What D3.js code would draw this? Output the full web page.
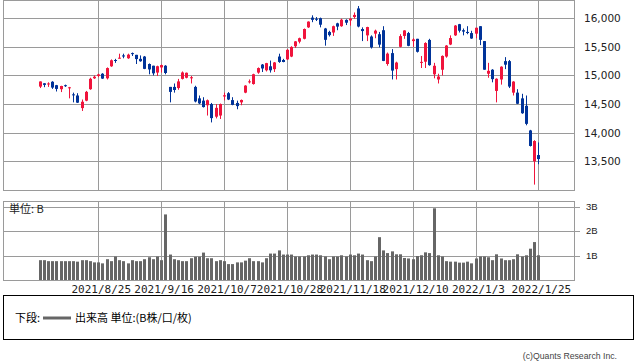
<!DOCTYPE html>
<html>
<head>
<meta charset="utf-8">
<script src="https://cdn.jsdelivr.net/npm/d3@7"></script>
<style>
  body { margin: 0; background: #fff; }
</style>
</head>
<body>
<div id="chart"></div>
<script>
// daily candles, Aug 2021 - Jan 2022
const dates = [
  "2021/8/5","2021/8/6","2021/8/9","2021/8/10","2021/8/11","2021/8/12","2021/8/13","2021/8/16","2021/8/17","2021/8/18",
  "2021/8/19","2021/8/20","2021/8/23","2021/8/24","2021/8/25","2021/8/26","2021/8/27","2021/8/30","2021/8/31","2021/9/1",
  "2021/9/2","2021/9/3","2021/9/7","2021/9/8","2021/9/9","2021/9/10","2021/9/13","2021/9/14","2021/9/15","2021/9/16",
  "2021/9/17","2021/9/20","2021/9/21","2021/9/22","2021/9/23","2021/9/24","2021/9/27","2021/9/28","2021/9/29","2021/9/30",
  "2021/10/1","2021/10/4","2021/10/5","2021/10/6","2021/10/7","2021/10/8","2021/10/11","2021/10/12","2021/10/13","2021/10/14",
  "2021/10/15","2021/10/18","2021/10/19","2021/10/20","2021/10/21","2021/10/22","2021/10/25","2021/10/26","2021/10/27","2021/10/28",
  "2021/10/29","2021/11/1","2021/11/2","2021/11/3","2021/11/4","2021/11/5","2021/11/8","2021/11/9","2021/11/10","2021/11/11",
  "2021/11/12","2021/11/15","2021/11/16","2021/11/17","2021/11/18","2021/11/19","2021/11/22","2021/11/23","2021/11/24","2021/11/26",
  "2021/11/29","2021/11/30","2021/12/1","2021/12/2","2021/12/3","2021/12/6","2021/12/7","2021/12/8","2021/12/9","2021/12/10",
  "2021/12/13","2021/12/14","2021/12/15","2021/12/16","2021/12/17","2021/12/20","2021/12/21","2021/12/22","2021/12/23","2021/12/27",
  "2021/12/28","2021/12/29","2021/12/30","2021/12/31","2022/1/3","2022/1/4","2022/1/5","2022/1/6","2022/1/7","2022/1/10",
  "2022/1/11","2022/1/12","2022/1/13","2022/1/14","2022/1/18","2022/1/19","2022/1/20","2022/1/21","2022/1/24","2022/1/25"
];

const opens = [
  14805,14863,14850,14890,14830,14760,14830,14780,14670,14650,
  14430,14560,14760,14950,14990,15030,14950,15160,15270,15300,
  15350,15300,15390,15360,15290,15330,15200,15170,15050,15140,
  15170,14800,14800,14780,14940,14960,14950,14800,14600,14560,
  14480,14500,14280,14300,14633,14690,14570,14520,14530,14700,
  14880,14850,15050,15190,15090,15160,15110,15330,15270,15280,
  15330,15510,15590,15640,15840,16010,15990,16000,15820,15760,
  15750,15910,15860,15970,15960,16020,16170,15810,15700,15680,
  15730,15720,15790,15200,15390,15110,15500,15690,15740,15600,
  15640,15220,15240,15620,15020,14930,15100,15330,15540,15700,
  15895,15790,15760,15740,15730,15860,15600,15030,15100,14730,
  14930,15250,15250,14700,14700,14600,14470,14040,13500,13610
];

const highs = [
  14896,14866,14880,14900,14835,14820,14840,14800,14700,14690,
  14580,14730,14960,15000,15030,15040,15140,15280,15290,15380,
  15380,15380,15400,15360,15350,15340,15210,15170,15170,15190,
  15180,14800,14860,14940,15070,15050,14990,14820,14650,14620,
  14580,14520,14500,14510,14700,14710,14620,14560,14580,14830,
  14930,15030,15140,15200,15220,15260,15235,15380,15290,15460,
  15510,15600,15660,15820,15945,16050,16020,16010,15830,15780,
  15870,15920,15990,15980,16000,16100,16212,15840,15850,15700,
  15800,15760,15860,15400,15460,15240,15720,15790,15760,15650,
  15640,15340,15580,15640,15220,15030,15350,15530,15700,15880,
  15900,15820,15860,15780,15835,15860,15600,15220,15110,14950,
  15160,15320,15270,14900,14760,14680,14650,14050,13870,13830
];

const lows = [
  14780,14795,14800,14765,14720,14710,14800,14600,14530,14520,
  14380,14550,14750,14940,14970,14940,14930,15150,15220,15295,
  15300,15290,15340,15200,15240,15110,15020,15000,14990,15050,
  15020,14530,14700,14750,14930,14950,14860,14530,14500,14440,
  14300,14180,14250,14240,14565,14570,14480,14410,14480,14690,
  14860,14840,15030,15060,15070,15050,15060,15220,15230,15270,
  15320,15480,15560,15630,15830,15930,15950,15840,15520,15680,
  15690,15790,15850,15880,15870,15990,15840,15600,15600,15470,
  15650,15490,15250,15170,14930,14930,15490,15640,15510,15500,
  15400,15130,15130,15170,14950,14860,15000,15310,15530,15690,
  15750,15700,15720,15640,15650,15530,15100,14960,14880,14530,
  14840,15110,14780,14650,14500,14330,14130,13760,13094,13450
];

const closes = [
  14895,14835,14860,14788,14765,14816,14822,14793,14656,14525,
  14541,14714,14942,14978,15019,14945,15129,15265,15259,15310,
  15331,15363,15374,15286,15248,15115,15105,15037,15161,15181,
  15043,14713,14746,14896,15052,15047,14969,14546,14512,14448,
  14567,14255,14434,14501,14654,14580,14486,14465,14572,14823,
  14897,15021,15129,15122,15215,15090,15227,15236,15235,15448,
  15498,15595,15650,15811,15940,15971,15982,15886,15622,15704,
  15860,15853,15974,15921,15993,16057,15854,15775,15845,15491,
  15782,15538,15254,15381,15085,15225,15687,15786,15517,15630,
  15413,15237,15566,15180,15169,14981,15341,15522,15653,15871,
  15781,15766,15741,15645,15833,15622,15100,15081,14936,14942,
  15153,15188,14806,14893,14506,14340,14155,13769,13855,13540
];

// volume, billions
const volumes = [
  0.81,0.81,0.77,0.77,0.77,0.77,0.77,0.77,0.77,0.75,
  0.81,0.81,0.77,0.72,0.72,0.68,0.85,0.77,0.96,0.81,
  0.77,0.68,0.81,0.77,0.77,0.85,0.93,0.85,0.96,0.81,
  2.68,1.04,0.85,0.81,0.77,0.77,0.89,0.95,0.95,1.12,
  0.89,0.89,0.77,0.81,0.77,0.65,0.65,0.72,0.72,0.79,
  0.89,0.77,0.77,0.72,0.89,1.08,1.08,1.21,1.04,1.04,
  1.04,0.96,0.96,0.96,1.01,1.04,1.04,1.01,0.96,0.85,
  0.96,0.96,1.01,0.96,1.04,1.01,1.08,1.04,0.81,0.77,
  0.96,1.75,1.21,1.10,1.17,1.05,1.05,0.90,0.88,0.85,
  0.98,1.01,1.13,1.10,2.93,1.01,0.96,0.77,0.75,0.75,
  0.71,0.71,0.75,0.68,0.88,0.96,0.96,0.93,0.81,1.05,
  0.88,0.81,0.81,0.85,1.05,0.96,1.01,1.28,1.55,1.01
];

const priceTicks = [13500, 14000, 14500, 15000, 15500, 16000];
const volumeTicks = [1, 2, 3];
const dateTicks = ["2021/8/25","2021/9/16","2021/10/7","2021/10/28","2021/11/18","2021/12/10","2022/1/3","2022/1/25"];

const W = 638, H = 362;
const UP = "#f0143c", DOWN = "#003399", GRID = "#9a9a9a";

const svg = d3.select("#chart").append("svg")
  .attr("width", W).attr("height", H)
  .style("font-family", "'DejaVu Sans', sans-serif");

svg.append("rect").attr("width", W).attr("height", H).attr("fill", "#fff");

const data = dates.map((d, i) => ({
  i, date: d, o: opens[i], h: highs[i], l: lows[i], c: closes[i], v: volumes[i]
}));

// 136 day slots, data sits in slots 0..119
const x = d3.scaleLinear().domain([-8.5, 127.5]).range([4, 574]);
const y = d3.scaleLinear().domain([13000, 16300]).range([190, 1]);
const yv = d3.scaleLinear().domain([0, 3.2]).range([280, 201.7]);

const px = v => Math.round(v) + 0.5;
const tickIdx = dateTicks.map(t => dates.indexOf(t));

// ---- price panel
const priceG = svg.append("g");
priceG.selectAll("line.hg").data(priceTicks).enter().append("line")
  .attr("x1", 4).attr("x2", 574)
  .attr("y1", d => px(y(d))).attr("y2", d => px(y(d)))
  .attr("stroke", GRID);
priceG.selectAll("line.vg").data(tickIdx).enter().append("line")
  .attr("x1", d => px(x(d))).attr("x2", d => px(x(d)))
  .attr("y1", 0.5).attr("y2", 190.5)
  .attr("stroke", GRID);
priceG.append("rect")
  .attr("x", 3.5).attr("y", 0.5).attr("width", 571).attr("height", 190)
  .attr("fill", "none").attr("stroke", GRID);

priceG.selectAll("text.py").data(priceTicks).enter().append("text")
  .attr("x", 584).attr("y", d => y(d))
  .attr("dy", "0.36em")
  .attr("font-size", 10.5).attr("fill", "#222")
  .text(d3.format(","));

const candles = priceG.append("g").selectAll("g").data(data).enter().append("g")
  .attr("fill", d => d.c >= d.o ? UP : DOWN)
  .attr("stroke", d => d.c >= d.o ? UP : DOWN);

candles.append("line")
  .attr("x1", d => px(x(d.i))).attr("x2", d => px(x(d.i)))
  .attr("y1", d => y(d.h)).attr("y2", d => y(d.l))
  .attr("stroke-width", 1);

candles.append("rect")
  .attr("x", d => Math.round(x(d.i)) - 1)
  .attr("width", 3)
  .attr("y", d => y(Math.max(d.o, d.c)))
  .attr("height", d => Math.max(1, Math.abs(y(d.o) - y(d.c))))
  .attr("stroke", "none");

// ---- volume panel
const volG = svg.append("g");
volG.selectAll("line.hg").data(volumeTicks).enter().append("line")
  .attr("x1", 4).attr("x2", 580)
  .attr("y1", d => px(yv(d))).attr("y2", d => px(yv(d)))
  .attr("stroke", GRID);
volG.selectAll("line.vg").data(tickIdx).enter().append("line")
  .attr("x1", d => px(x(d))).attr("x2", d => px(x(d)))
  .attr("y1", 201.5).attr("y2", 280.5)
  .attr("stroke", GRID);

volG.append("text")
  .attr("x", 9).attr("y", 212.5)
  .attr("font-size", 11)
  .attr("font-family", "'Noto Sans CJK JP', sans-serif")
  .attr("fill", "#222")
  .text("単位: B");

volG.selectAll("rect.vol").data(data).enter().append("rect")
  .attr("x", d => Math.round(x(d.i)) - 1)
  .attr("width", 3)
  .attr("y", d => yv(d.v))
  .attr("height", d => yv(0) - yv(d.v))
  .attr("fill", "#666");

volG.append("rect")
  .attr("x", 3.5).attr("y", 201.5).attr("width", 571).attr("height", 79)
  .attr("fill", "none").attr("stroke", GRID);

volG.selectAll("text.vy").data(volumeTicks).enter().append("text")
  .attr("x", 586).attr("y", d => yv(d))
  .attr("dy", "0.36em")
  .attr("font-size", 9.5).attr("fill", "#222")
  .attr("font-family", "'Liberation Sans', sans-serif")
  .text(d => d + "B");

// date labels
svg.selectAll("text.dx").data(dateTicks).enter().append("text")
  .attr("x", d => x(dates.indexOf(d)) + 3)
  .attr("y", 292.5)
  .attr("text-anchor", "middle")
  .attr("font-size", 11)
  .attr("font-family", "'DejaVu Sans Mono', monospace")
  .attr("fill", "#222")
  .text(d => d);

// ---- legend
const leg = svg.append("g");
leg.append("rect")
  .attr("x", 3.5).attr("y", 295.5).attr("width", 630).attr("height", 44)
  .attr("fill", "none").attr("stroke", "#000");
leg.append("text")
  .attr("x", 15).attr("y", 322)
  .attr("font-size", 11)
  .attr("font-family", "'Noto Sans CJK JP', sans-serif")
  .text("下段:");
leg.append("line")
  .attr("x1", 43).attr("x2", 71).attr("y1", 318).attr("y2", 318)
  .attr("stroke", "#666").attr("stroke-width", 3);
leg.append("text")
  .attr("x", 75).attr("y", 322)
  .attr("font-size", 11)
  .attr("font-family", "'Noto Sans CJK JP', sans-serif")
  .text("出来高 単位:(B株/口/枚)");

svg.append("text")
  .attr("x", 617).attr("y", 359)
  .attr("text-anchor", "end")
  .attr("font-size", 8.7)
  .attr("font-family", "'Liberation Sans', sans-serif")
  .attr("fill", "#444")
  .text("(c)Quants Research Inc.");
</script>
</body>
</html>
